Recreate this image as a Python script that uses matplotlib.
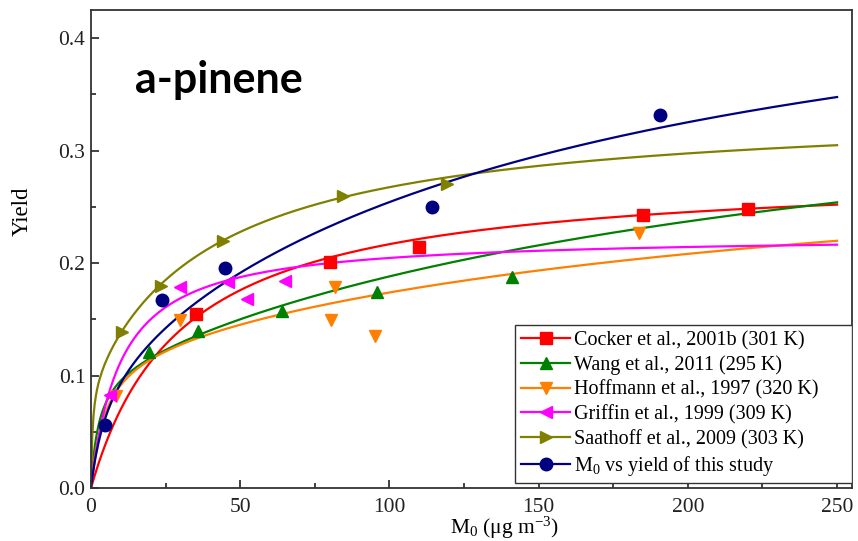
import numpy as np
import matplotlib
matplotlib.use("Agg")
import matplotlib.pyplot as plt
from matplotlib.lines import Line2D
from matplotlib.patches import Rectangle
from matplotlib.ticker import MultipleLocator

plt.rcParams['font.family'] = ['Liberation Serif', 'DejaVu Serif']
plt.rcParams['mathtext.fontset'] = 'custom'
plt.rcParams['mathtext.rm'] = 'Liberation Serif'

# ---- data ----
labels = ["Cocker et al., 2001b (301 K)", "Wang et al., 2011 (295 K)",
          "Hoffmann et al., 1997 (320 K)", "Griffin et al., 1999 (309 K)",
          "Saathoff et al., 2009 (303 K)", r"$\mathregular{M_0}$ vs yield of this study"]
colors = ["#ff0000", "#008000", "#ff8000", "#ff00ff", "#808000", "#000080"]
markers = ["s", "^", "v", "<", ">", "o"]

cocker_m0 = [35.2, 80.1, 110, 185, 220]
cocker_y = [0.155, 0.201, 0.214, 0.243, 0.248]
wang_m0 = [19.4, 35.9, 64, 96, 141]
wang_y = [0.121, 0.140, 0.157, 0.174, 0.188]
hoff_m0 = [8.5, 29.8, 80.4, 81.6, 95.2, 183.7]
hoff_y = [0.082, 0.149, 0.149, 0.179, 0.135, 0.227]
griffin_m0 = [6.4, 29.8, 46, 52.3, 65]
griffin_y = [0.083, 0.179, 0.183, 0.168, 0.184]
saat_m0 = [10.4, 23.5, 44.2, 84.4, 119.3]
saat_y = [0.139, 0.180, 0.220, 0.260, 0.270]
study_m0 = [4.7, 23.8, 44.9, 114.3, 190.7]
study_y = [0.056, 0.167, 0.196, 0.250, 0.332]

# Odum two-product fit parameters (alpha1, K1, alpha2, K2)
cocker_fit = [0.2825, 0.033, 0.0, 0.0]
wang_fit = [0.105, 0.4, 0.30, 0.004]
hoff_fit = [0.122, 0.22, 0.20, 0.004]
griffin_fit = [0.225, 0.10, 0.0, 0.0]
saat_fit = [0.095, 2.0, 0.245, 0.024]
study_fit = [0.11, 0.18, 0.40, 0.006]

points = [(cocker_m0, cocker_y), (wang_m0, wang_y), (hoff_m0, hoff_y),
          (griffin_m0, griffin_y), (saat_m0, saat_y), (study_m0, study_y)]
fits = [cocker_fit, wang_fit, hoff_fit, griffin_fit, saat_fit, study_fit]


def odum(m, p):
    a1, k1, a2, k2 = p
    return m * (a1 * k1 / (1 + k1 * m) + a2 * k2 / (1 + k2 * m))


fig = plt.figure(figsize=(8.58, 5.41), dpi=100)
ax = fig.add_axes([91 / 858, 1 - 488 / 541, 761 / 858, 478 / 541])

mgrid = np.linspace(0, 250, 600)
handles = []
for (mx, my), p, c, mk, lab in zip(points, fits, colors, markers, labels):
    ax.plot(mgrid, odum(mgrid, p), color=c, lw=1.6, zorder=2)
    ax.plot(mx, my, ls='none', marker=mk, color=c, ms=9, mec=c, zorder=3)
    handles.append(Line2D([], [], color=c, lw=1.6, marker=mk, ms=9, label=lab))

ax.set_xlim(0, 255)
ax.set_ylim(0, 0.425)
ax.xaxis.set_major_locator(MultipleLocator(50))
ax.xaxis.set_minor_locator(MultipleLocator(25))
ax.yaxis.set_major_locator(MultipleLocator(0.1))
ax.yaxis.set_minor_locator(MultipleLocator(0.05))
ax.yaxis.set_major_formatter(matplotlib.ticker.FormatStrFormatter('%.1f'))
ax.tick_params(which='both', direction='in', labelsize=15.5, width=1.2, colors='#222222')
ax.tick_params(which='major', length=6)
ax.tick_params(which='minor', length=3.5)
ax.tick_params(axis='x', which='major', pad=7)
ax.tick_params(axis='y', which='major', pad=4)
for s in ax.spines.values():
    s.set_linewidth(1.3)
    s.set_color('#333333')

ax.set_ylabel("Yield", fontsize=16.5)
ax.yaxis.set_label_coords(-0.076, 0.58)
ax.set_xlabel(r"$\mathregular{M_0}$ (μg m$\mathregular{^{-3}}$)", fontsize=15.5)
ax.xaxis.set_label_coords(0.544, -0.056)

ax.text(135 / 858, 1 - 80 / 541, "a-pinene", transform=fig.transFigure,
        fontsize=31, fontweight='bold', family='Lato', va='center', ha='left')

# legend frame (box drawn separately to match the reference padding)
ax.add_patch(Rectangle(((515 - 91) / 761, (488 - 483) / 478), (852 - 515) / 761,
                       (483 - 325) / 478, transform=ax.transAxes, facecolor='white',
                       edgecolor='#333333', lw=1.0, zorder=4))
leg = ax.legend(handles=handles, loc='upper left',
                bbox_to_anchor=((521 - 91) / 761, (488 - 331) / 478),
                fontsize=14.5, frameon=False, handlelength=2.45,
                handletextpad=0.2, labelspacing=0.26, borderpad=0.0,
                borderaxespad=0.0)
leg.set_zorder(5)

fig.savefig("out.png", dpi=100)
